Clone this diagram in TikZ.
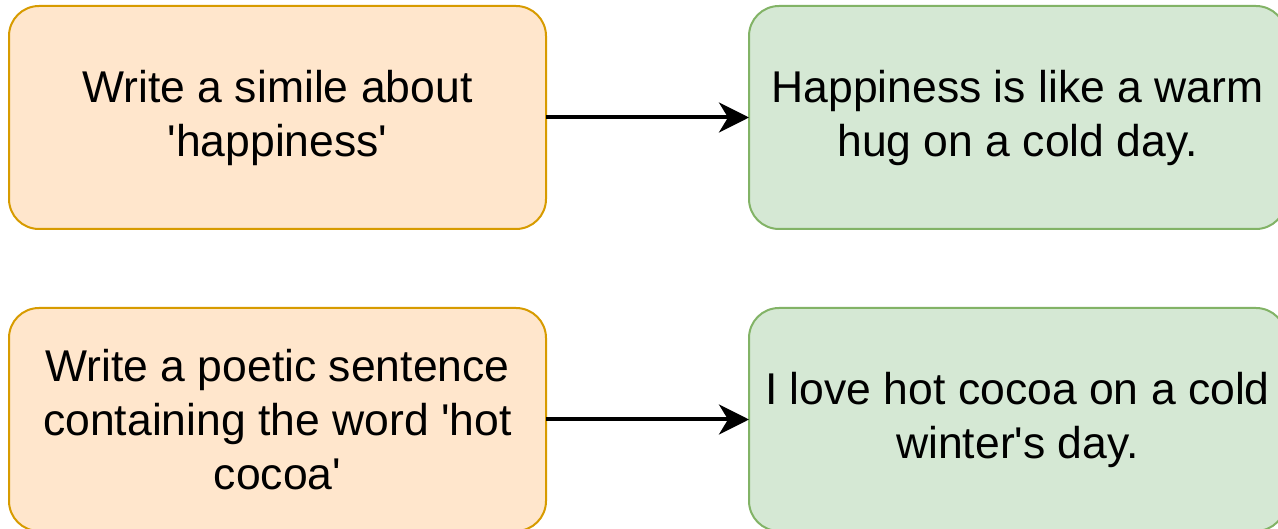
\documentclass[tikz,border=0pt]{standalone}
\usepackage{fontspec}
\setmainfont{Liberation Sans}
\usetikzlibrary{arrows.meta,positioning}
\definecolor{promptfill}{HTML}{FFE6CC}
\definecolor{promptline}{HTML}{D79B00}
\definecolor{replyfill}{HTML}{D5E8D4}
\definecolor{replyline}{HTML}{82B366}

\begin{document}
\begin{tikzpicture}[
  x=1pt, y=1pt,
  node distance=79pt and 203pt,
  card/.style={rounded corners=30pt, line width=2pt, align=center, outer sep=0pt,
    minimum width=537pt, minimum height=223pt,
    font=\fontsize{44.5pt}{54pt}\selectfont},
  prompt/.style={card, draw=promptline, fill=promptfill},
  reply/.style={card, draw=replyline, fill=replyfill},
  >={Stealth[length=30pt, width=30pt, inset=9pt]}
]
\useasboundingbox (0,0) rectangle (1278,-529);
\clip (0,0) rectangle (1278,-529);
\node[prompt] (simile) at (277.5,-117.5) {Write a simile about\\\textquotesingle happiness\textquotesingle};
\node[reply, right=of simile] (happy) {Happiness is like a warm\\hug on a cold day.};
\node[prompt, below=of simile] (poem) {Write a poetic sentence\\containing the word \textquotesingle hot\\cocoa\textquotesingle};
\node[reply, right=of poem] (cocoa) {I love hot cocoa on a cold\\winter\textquotesingle s day.};
\draw[->, line width=4pt] (simile) -- (happy);
\draw[->, line width=4pt] (poem) -- (cocoa);
\end{tikzpicture}
\end{document}
